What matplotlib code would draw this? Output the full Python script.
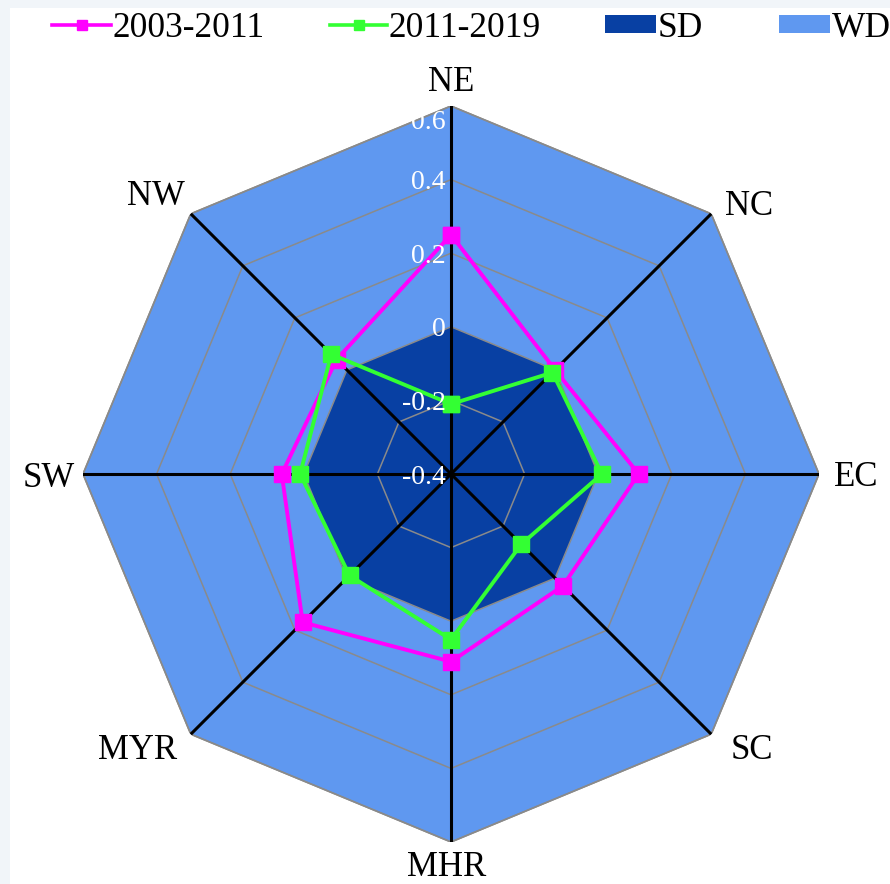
import numpy as np
import matplotlib
matplotlib.use("Agg")
import matplotlib.pyplot as plt
from matplotlib.lines import Line2D
from matplotlib.patches import Rectangle

# Regions around the radar
regions = ["NE", "NC", "EC", "SC", "MHR", "MYR", "SW", "NW"]

# Change rates for the two periods
p2003_2011 = [0.25, 0.00, 0.11, 0.03, 0.11, 0.17, 0.06, 0.04]
p2011_2019 = [-0.21, -0.01, 0.01, -0.13, 0.05, -0.01, 0.01, 0.06]

# Background bands: strong decline (SD) up to 0, weak decline (WD) up to 0.6
sd_level = [0.0] * 8
wd_level = [0.6] * 8

r_ticks = [-0.4, -0.2, 0.0, 0.2, 0.4, 0.6]
r_tick_labels = ["-0.4", "-0.2", "0", "0.2", "0.4", "0.6"]
series_names = ["2003-2011", "2011-2019"]
band_names = ["SD", "WD"]

C_MAG = "#ff00ff"
C_GRN = "#33ff33"
C_SD = "#0840a3"
C_WD = "#5f98f0"
C_GRID = "#8a8a8a"
SERIF = ["Liberation Serif", "DejaVu Serif"]

W, H = 890, 884
fig = plt.figure(figsize=(W / 100, H / 100), dpi=100)
fig.patch.set_facecolor("white")

# light frame strips on the left and top edges
fig.add_artist(Rectangle((0, 0), 10 / W, 1, transform=fig.transFigure,
                         facecolor="#f1f5f9", edgecolor="none", zorder=0))
fig.add_artist(Rectangle((0, 1 - 8 / H), 1, 8 / H, transform=fig.transFigure,
                         facecolor="#f1f5f9", edgecolor="none", zorder=0))

cx, cy, R = 451, H - 474, 368
ax = fig.add_axes([(cx - R) / W, (cy - R) / H, 2 * R / W, 2 * R / H], projection="polar")
ax.set_theta_offset(np.pi / 2)
ax.set_theta_direction(-1)
ax.set_ylim(r_ticks[0], r_ticks[-1])
ax.grid(False)
ax.spines["polar"].set_visible(False)
ax.set_xticks([])
ax.set_yticks([])
ax.patch.set_alpha(0)

n = len(regions)
theta = np.arange(n) * 2 * np.pi / n
tc = np.append(theta, theta[0])


def closed(v):
    return np.append(np.asarray(v, dtype=float), v[0])


# bands
ax.fill(tc, closed(wd_level), facecolor=C_WD, edgecolor=C_GRID, lw=1.2, zorder=1)
ax.fill(tc, closed(sd_level), facecolor=C_SD, edgecolor="none", zorder=2)

# octagonal grid rings
for lv in r_ticks[1:]:
    ax.plot(tc, [lv] * (n + 1), color=C_GRID, lw=1.1, zorder=3)

# spokes
for t in theta:
    ax.plot([t, t], [r_ticks[0], r_ticks[-1]], color="black", lw=2.2, zorder=4)

# series
ax.plot(tc, closed(p2003_2011), color=C_MAG, lw=2.8, marker="s", ms=11,
        zorder=5, clip_on=False)
ax.plot(tc, closed(p2011_2019), color=C_GRN, lw=2.8, marker="s", ms=11,
        zorder=6, clip_on=False)

# radial tick labels along the NE spoke
for v, lab in zip(r_ticks, r_tick_labels):
    dy = -10 if v == r_ticks[-1] else 0
    ax.annotate(lab, xy=(0, v), xytext=(-4, dy), textcoords="offset points",
                ha="right", va="center_baseline", color="white", fontsize=20,
                family=SERIF, zorder=7, annotation_clip=False)

# region labels outside the octagon
offsets = {"NE": (0, 20), "NC": (27, 8), "EC": (27, 0), "SC": (29, -9),
           "MHR": (-3, -15.5), "MYR": (-38, -9), "SW": (-25, 0), "NW": (-25, 15)}
for t, name in zip(theta, regions):
    ax.annotate(name, xy=(t, r_ticks[-1]), xytext=offsets[name],
                textcoords="offset points", ha="center", va="center_baseline",
                fontsize=25, family=SERIF, color="black", annotation_clip=False)

# legend row along the top
ly = 1 - 24.5 / H
fs_leg = 25.5
for x0, x1, col, name in [(52, 111, C_MAG, series_names[0]),
                          (330, 387, C_GRN, series_names[1])]:
    fig.add_artist(Line2D([x0 / W, x1 / W], [ly, ly], transform=fig.transFigure,
                          color=col, lw=2.6))
    fig.add_artist(Line2D([(x0 + x1) / 2 / W], [ly], transform=fig.transFigure,
                          color=col, marker="s", ms=7.5, lw=0))
    fig.text((x1 + 2) / W, ly, name, ha="left", va="center_baseline",
             fontsize=fs_leg, family=SERIF)
for x0, col, name in [(605, C_SD, band_names[0]), (779, C_WD, band_names[1])]:
    fig.add_artist(Rectangle((x0 / W, 1 - 33 / H), 51 / W, 18 / H,
                             transform=fig.transFigure, facecolor=col,
                             edgecolor="none"))
    fig.text((x0 + 53) / W, ly, name, ha="left", va="center_baseline",
             fontsize=fs_leg, family=SERIF)

fig.savefig("out.png", dpi=100)
